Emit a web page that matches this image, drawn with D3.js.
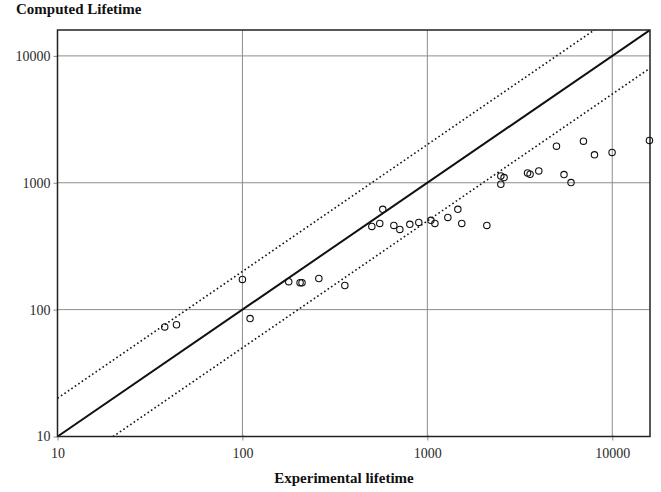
<!DOCTYPE html>
<html>
<head>
<meta charset="utf-8">
<script src="https://cdn.jsdelivr.net/npm/d3@7"></script>
<style>
  body { margin: 0; background: #fff; }
  text { font-family: "Liberation Serif", "DejaVu Serif", serif; }
</style>
</head>
<body>
<div id="chart"></div>
<script>
// data (experimental, computed) ----------------------------------------------
const experimental = [38, 44, 100, 110, 178, 205, 210, 259, 358, 501, 553, 574, 659, 710, 804,
  899, 1045, 1099, 1291, 1462, 1535, 2098, 2497, 2600, 2497, 3483, 3594, 4006, 4993, 5483,
  5984, 6985, 8012, 9977, 15890];
const computed = [73, 76, 173, 85, 166, 163, 163, 176, 155, 453, 478, 617, 461, 429, 470,
  487, 506, 478, 533, 617, 478, 461, 1132, 1099, 973, 1195, 1167, 1240, 1944, 1161,
  1004, 2128, 1660, 1733, 2157];
const tickValues = [10, 100, 1000, 10000];
const ratioLines = [2, 1, 0.5];   // computed = ratio * experimental

const points = experimental.map((e, i) => ({ e: e, c: computed[i] }));

const width = 661, height = 492;
const margin = { top: 30, right: 11, bottom: 55.5, left: 57.5 };
const innerW = width - margin.left - margin.right;
const innerH = height - margin.top - margin.bottom;
const domain = [10, 16000];

const svg = d3.select('#chart').append('svg')
    .attr('width', width)
    .attr('height', height);

const x = d3.scaleLog().domain(domain).range([0, innerW]);
const y = d3.scaleLog().domain(domain).range([innerH, 0]);

const g = svg.append('g').attr('transform', `translate(${margin.left},${margin.top})`);

const defs = svg.append('defs');
defs.append('clipPath').attr('id', 'clip')
  .append('rect').attr('width', innerW).attr('height', innerH);

// grid
g.append('g').selectAll('line.vx')
  .data(tickValues.slice(1))
  .join('line')
    .attr('x1', d => x(d)).attr('x2', d => x(d))
    .attr('y1', 0).attr('y2', innerH)
    .attr('stroke', '#8c8c8c').attr('stroke-width', 1);
g.append('g').selectAll('line.hy')
  .data(tickValues.slice(1))
  .join('line')
    .attr('x1', 0).attr('x2', innerW)
    .attr('y1', d => y(d)).attr('y2', d => y(d))
    .attr('stroke', '#8c8c8c').attr('stroke-width', 1);

// axes
const xAxis = g.append('g')
    .attr('transform', `translate(0,${innerH})`)
    .call(d3.axisBottom(x).tickValues(tickValues).tickFormat(d3.format('d')).tickSize(4));
const yAxis = g.append('g')
    .call(d3.axisLeft(y).tickValues(tickValues).tickFormat(d3.format('d')).tickSize(4));

[xAxis, yAxis].forEach(a => {
  a.select('.domain').remove();
  a.selectAll('.tick line').attr('stroke', '#8c8c8c');
  a.selectAll('.tick text')
    .attr('font-family', '"Liberation Serif", serif')
    .attr('font-size', 14)
    .attr('fill', '#2a2a2a');
});
xAxis.selectAll('.tick line').attr('y1', -2).attr('y2', 4);
xAxis.selectAll('.tick text').attr('dy', '1em');
yAxis.selectAll('.tick text').attr('x', -7);

// diagonal lines
const lineG = g.append('g').attr('clip-path', 'url(#clip)');
lineG.selectAll('line')
  .data(ratioLines)
  .join('line')
    .attr('x1', d => x(domain[0])).attr('y1', d => y(domain[0] * d))
    .attr('x2', d => x(domain[1])).attr('y2', d => y(domain[1] * d))
    .attr('stroke', '#111')
    .attr('stroke-width', d => d === 1 ? 2 : 1.6)
    .attr('stroke-dasharray', d => d === 1 ? null : '1.6,2.6');

// frame
g.append('rect')
  .attr('width', innerW).attr('height', innerH)
  .attr('fill', 'none').attr('stroke', '#222').attr('stroke-width', 1.5);

// points
g.append('g').selectAll('circle')
  .data(points)
  .join('circle')
    .attr('cx', d => x(d.e))
    .attr('cy', d => y(d.c))
    .attr('r', 3.2)
    .attr('fill', 'none')
    .attr('stroke', '#111')
    .attr('stroke-width', 1.1);

// titles
svg.append('text')
  .attr('x', 16).attr('y', 14)
  .attr('font-size', 15).attr('font-weight', 'bold')
  .attr('fill', '#111')
  .text('Computed Lifetime');

svg.append('text')
  .attr('x', 344).attr('y', 483)
  .attr('text-anchor', 'middle')
  .attr('font-size', 15).attr('font-weight', 'bold')
  .attr('fill', '#111')
  .text('Experimental lifetime');
</script>
</body>
</html>
